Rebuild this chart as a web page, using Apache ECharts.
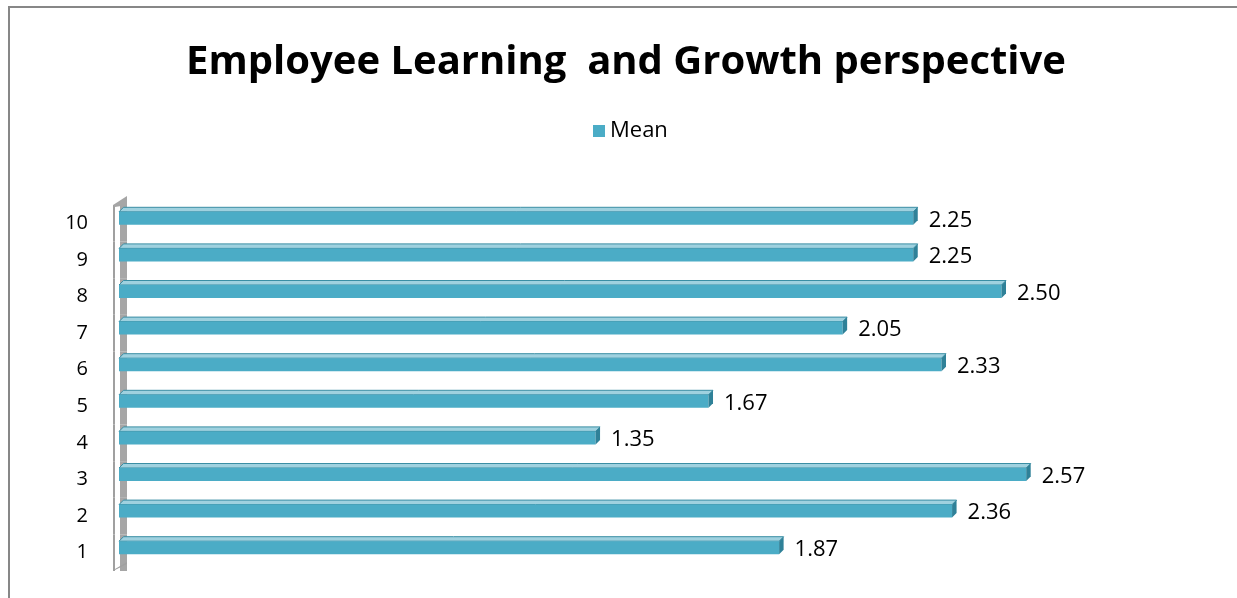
<!DOCTYPE html>
<html>
<head>
<meta charset="utf-8">
<script src="https://cdn.jsdelivr.net/npm/echarts@6/dist/echarts.min.js"></script>
<style>
  body { margin: 0; background: #fff; }
  #frame { position: absolute; left: 8px; top: 6px; width: 1240px; height: 600px;
           border-left: 2px solid #878787; border-top: 2px solid #878787; }
  #chart { position: absolute; left: 0; top: 0; width: 1237px; height: 598px; }
</style>
</head>
<body>
<div id="frame"></div>
<div id="chart"></div>
<script>
  let categories = ['1', '2', '3', '4', '5', '6', '7', '8', '9', '10'];
  let meanValues = [1.87, 2.36, 2.57, 1.35, 1.67, 2.33, 2.05, 2.50, 2.25, 2.25];

  let font = '"Open Sans", "DejaVu Sans", sans-serif';
  let barColor = '#4bacc6';

  // 3d-ish bar: front face, top face, end face, plus piece of the left wall
  function renderBar(params, api) {
    let val = api.value(0);
    let idx = api.value(1);
    let start = api.coord([0, idx]);
    let end = api.coord([val, idx]);
    let band = api.size([0, 1])[1];
    let x0 = start[0], xe = end[0], c = end[1];
    let d = 4.5;
    let ft = c - 11.5, fb = c + 1.5;
    let children = [];

    // wall
    children.push({
      type: 'rect', shape: {x: x0 - 6, y: c - band / 2, width: 2, height: band},
      style: {fill: '#a0a0a0'}
    });
    children.push({
      type: 'rect', shape: {x: x0 + 1, y: c - band / 2, width: 7, height: band},
      style: {fill: '#a6a6a6'}
    });
    if (idx === categories.length - 1) {
      children.push({
        type: 'polygon',
        shape: {points: [[x0 - 6, c - band / 2], [x0 + 8, c - band / 2 - 9], [x0 + 8, c - band / 2], [x0 - 4, c - band / 2 + 2]]},
        style: {fill: '#a6a6a6'}
      });
    }
    if (idx === 0) {
      children.push({
        type: 'polygon',
        shape: {points: [[x0 - 6, c + band / 2], [x0 + 8, c + band / 2 - 7], [x0 + 8, c + band / 2 - 9], [x0 - 4, c + band / 2 - 2]]},
        style: {fill: '#a0a0a0'}
      });
    }
    // top face
    children.push({
      type: 'polygon',
      shape: {points: [[x0, ft], [x0 + d, ft - d], [xe + d, ft - d], [xe, ft]]},
      style: {fill: '#9fd1df', stroke: '#3a8ea4', lineWidth: 1}
    });
    // front
    children.push({
      type: 'rect', shape: {x: x0, y: ft, width: xe - x0, height: fb - ft},
      style: {fill: barColor}
    });
    // end face
    children.push({
      type: 'polygon',
      shape: {points: [[xe, ft], [xe + d, ft - d], [xe + d, fb - d], [xe, fb]]},
      style: {fill: '#2f8198'}
    });
    // value label
    children.push({
      type: 'text',
      style: {
        text: val.toFixed(2), x: xe + d + 11, y: c - 3,
        verticalAlign: 'middle', align: 'left',
        fontSize: 22, fontFamily: font, fill: '#000'
      }
    });
    return {type: 'group', children: children};
  }

  let chart = echarts.init(document.getElementById('chart'));
  chart.setOption({
    backgroundColor: 'transparent',
    animation: false,
    title: {
      text: 'Employee Learning  and Growth perspective',
      left: 621, textAlign: 'center', top: 38,
      textStyle: {fontSize: 40, fontWeight: 'bold', color: '#000', fontFamily: font}
    },
    legend: {
      data: ['Mean'],
      left: 588, top: 115,
      itemWidth: 12, itemHeight: 12, itemGap: 9,
      icon: 'rect',
      textStyle: {fontSize: 22, color: '#000', fontFamily: font}
    },
    grid: {left: 119, right: 59, top: 205, bottom: 27},
    xAxis: {
      type: 'value', min: 0, max: 3,
      show: false
    },
    yAxis: {
      type: 'category', data: categories,
      axisLine: {show: false}, axisTick: {show: false},
      axisLabel: {fontSize: 20, color: '#000', fontFamily: font, margin: 31}
    },
    series: [{
      name: 'Mean',
      type: 'custom',
      renderItem: renderBar,
      itemStyle: {color: barColor},
      encode: {x: 0, y: 1},
      data: meanValues.map((v, i) => [v, i])
    }]
  });
</script>
</body>
</html>
